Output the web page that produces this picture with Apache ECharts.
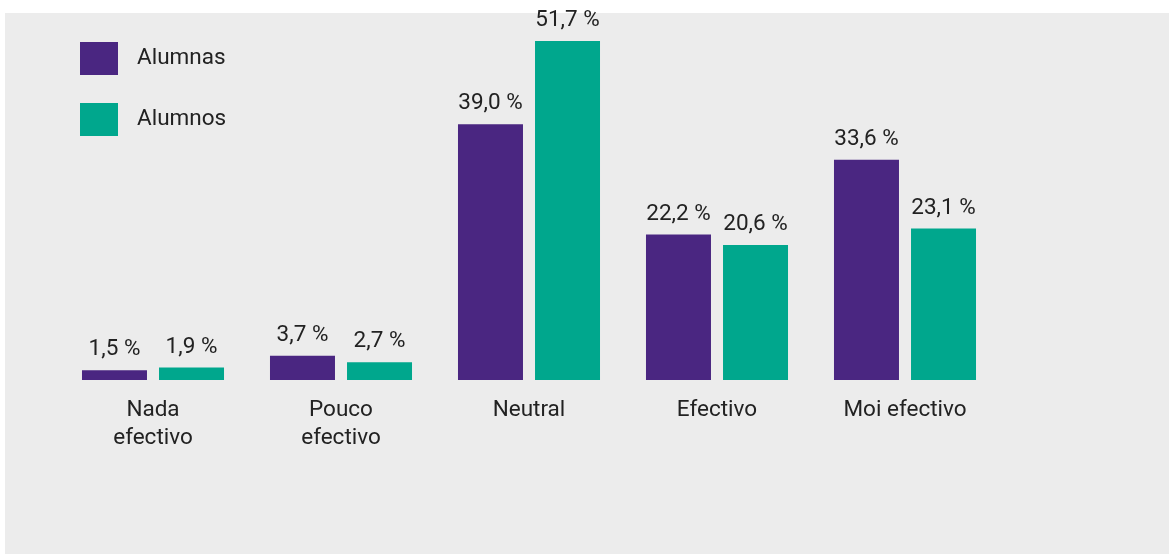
<!DOCTYPE html>
<html><head><meta charset="utf-8">
<script src="https://cdn.jsdelivr.net/npm/echarts@6/dist/echarts.min.js"></script>
<style>html,body{margin:0;padding:0;background:#fff}#c{width:1169px;height:554px}</style>
</head><body><div id="c"></div>
<script>
const categories = ['Nada\nefectivo', 'Pouco\nefectivo', 'Neutral', 'Efectivo', 'Moi efectivo'];
const alumnas = [1.5, 3.7, 39.0, 22.2, 33.6];
const alumnos = [1.9, 2.7, 51.7, 20.6, 23.1];
const seriesNames = ['Alumnas', 'Alumnos'];
const colors = ['#4a2681', '#00a78d'];
const fmt = p => p.value.toFixed(1).replace('.', ',') + ' %';
const chart = echarts.init(document.getElementById('c'), null, {renderer: 'canvas'});
const lbl = {show: true, position: 'top', distance: 9, formatter: fmt, fontSize: 22.5, color: '#222', fontFamily: 'Roboto'};
chart.setOption({
  backgroundColor: '#fff',
  graphic: [{type: 'rect', z: -10, shape: {x: 5, y: 13, width: 1164, height: 541}, style: {fill: '#ececec'}}],
  textStyle: {fontFamily: 'Roboto'},
  legend: {
    orient: 'vertical', left: 80, top: 42, padding: 0, itemWidth: 38, itemHeight: 33, itemGap: 28,
    icon: 'rect', textStyle: {fontSize: 22.5, color: '#222', padding: [0, 0, 0, 14]},
    data: seriesNames
  },
  grid: {left: 59, width: 940, top: 19.4, bottom: 174},
  xAxis: {
    type: 'category', data: categories,
    axisLine: {show: false}, axisTick: {show: false},
    axisLabel: {fontSize: 22.5, color: '#222', lineHeight: 28, margin: 16, interval: 0}
  },
  yAxis: {type: 'value', min: 0, max: 55, show: false, splitLine: {show: false}},
  series: [
    {name: seriesNames[0], type: 'bar', data: alumnas, barWidth: 65, barGap: '18.5%', itemStyle: {color: colors[0]}, label: lbl},
    {name: seriesNames[1], type: 'bar', data: alumnos, barWidth: 65, barGap: '18.5%', itemStyle: {color: colors[1]}, label: lbl}
  ],
  animation: false
});
</script></body></html>
